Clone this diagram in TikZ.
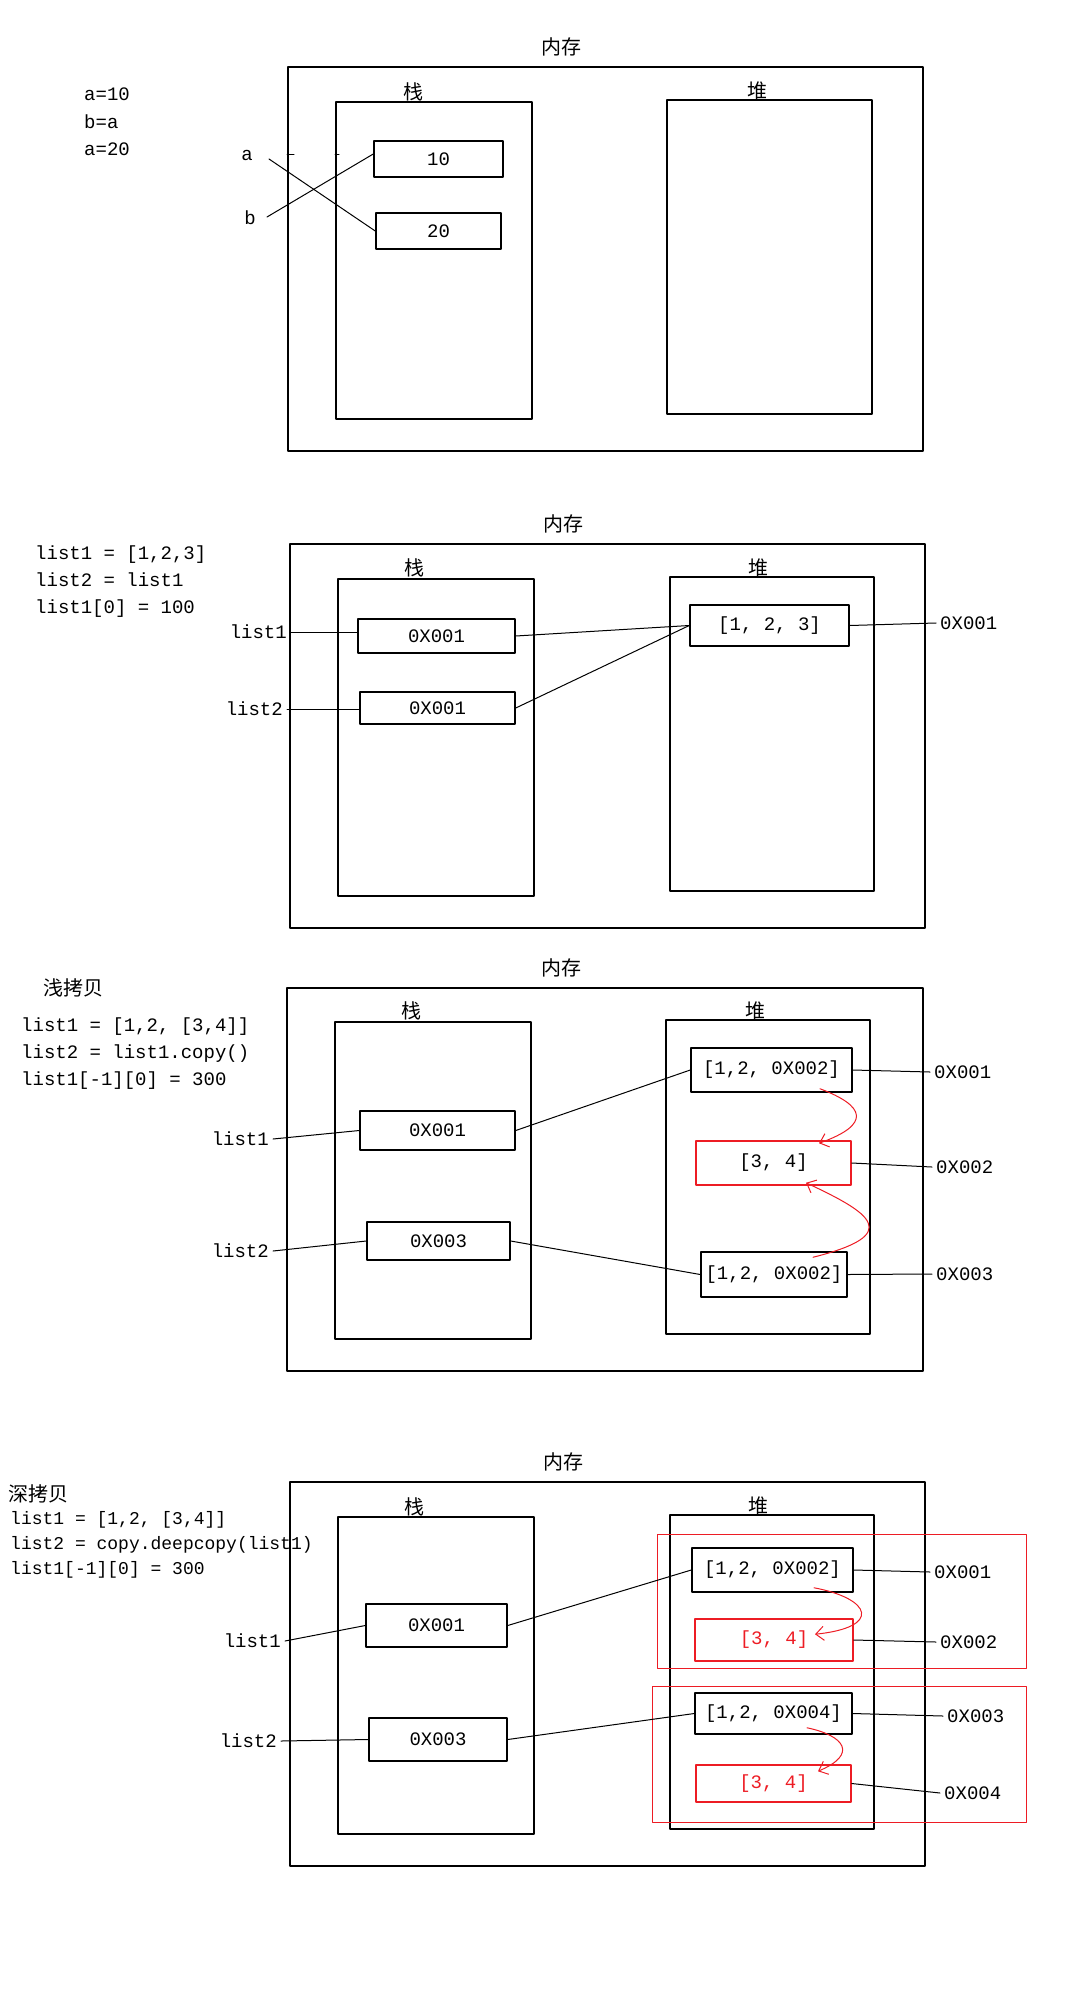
\documentclass[tikz,border=0pt]{standalone}
\usepackage{fontspec}
\setmainfont{Liberation Mono}
\newfontfamily\cjk{Noto Sans CJK SC}
\usetikzlibrary{arrows.meta, calc}

\definecolor{paintred}{RGB}{237,28,36}

\tikzset{
    membox/.style={draw, line width=1.5pt, inner sep=0pt},
    cell/.style={draw, line width=1.5pt, inner sep=0pt, font=\fontsize{19}{19}\selectfont},
    redcell/.style={cell, draw=paintred},
    heading/.style={font=\cjk\fontsize{20}{20}\selectfont, inner sep=0pt},
    codetext/.style={font=\fontsize{19}{27}\selectfont, align=left, inner sep=0pt, anchor=west},
    tag/.style={font=\fontsize{19}{19}\selectfont, inner sep=4pt},
    wire/.style={line width=1pt},
    curl/.style={paintred, line width=1pt, -{Straight Barb[length=8pt, width=14pt]}},
}

\begin{document}
\begin{tikzpicture}[x=1pt, y=-1pt, line join=round, line cap=round]
    \useasboundingbox (0,0) rectangle (1084,2010);

    % --- PANEL 1: a=10, b=a, a=20 ---
    \node[heading] (mem1t) at (561,47) {内存};
    \node[membox, minimum width=635pt, minimum height=384pt] (mem1) at (605.5,259) {};
    \node[membox, minimum width=196pt, minimum height=317pt] (stack1) at (434,260.5) {};
    \node[membox, minimum width=205pt, minimum height=314pt] (heap1) at (769.5,257) {};
    \node[heading] (stack1t) at (413,92) {栈};
    \node[heading] (heap1t) at (757,91) {堆};
    \node[codetext, font=\fontsize{19}{27.5}\selectfont] (code1) at (84,122) {a=10\\b=a\\a=20};

    \node[cell, minimum width=129pt, minimum height=36pt] (ten) at (438.5,159) {10};
    \node[cell, minimum width=125pt, minimum height=36pt] (twenty) at (438.5,231) {20};

    \node[tag] (va) at (247,155) {a};
    \node[tag] (vb) at (250,218) {b};
    \coordinate (aend) at (269,159);
    \coordinate (bend) at (267,217);
    \draw[wire] (aend) -- (twenty.west);
    \draw[wire] (bend) -- ([yshift=5pt]ten.west);
    % small marks on the left edges
    \draw[wire] (287,154) -- (294,154);
    \draw[wire] (335,154) -- (339,154);

    % --- PANEL 2: list2 = list1 ---
    \node[heading] (mem2t) at (563,524) {内存};
    \node[membox, minimum width=635pt, minimum height=384pt] (mem2) at (607.5,736) {};
    \node[membox, minimum width=196pt, minimum height=317pt] (stack2) at (436,737.5) {};
    \node[membox, minimum width=204pt, minimum height=314pt] (heap2) at (772,734) {};
    \node[heading] (stack2t) at (414,568) {栈};
    \node[heading] (heap2t) at (758,568) {堆};
    \node[codetext] (code2) at (35,582) {list1 = [1,2,3]\\list2 = list1\\list1[0] = 100};

    \node[cell, minimum width=157pt, minimum height=34pt] (p1) at (436.5,636) {0X001};
    \node[cell, minimum width=155pt, minimum height=32pt] (p2) at (437.5,708) {0X001};
    \node[cell, minimum width=159pt, minimum height=41pt] (arr) at (769.5,625.5) {[1, 2, 3]};

    \node[tag, anchor=east] (l21) at (291,632) {list1};
    \node[tag, anchor=east] (l22) at (287,709) {list2};
    \node[tag, anchor=west] (o21) at (936,623) {0X001};
    \draw[wire] (l21.east) -- (l21.east -| p1.west);
    \draw[wire] (l22.east) -- (l22.east -| p2.west);
    \draw[wire] (p1.east) -- (arr.west);
    \draw[wire] (p2.east) -- (arr.west);
    \draw[wire] (arr.east) -- (o21.west);

    % --- PANEL 3: shallow copy ---
    \node[heading] (mem3t) at (561,968) {内存};
    \node[membox, minimum width=636pt, minimum height=383pt] (mem3) at (605,1179.5) {};
    \node[membox, minimum width=196pt, minimum height=317pt] (stack3) at (433,1180.5) {};
    \node[membox, minimum width=204pt, minimum height=314pt] (heap3) at (768,1177) {};
    \node[heading] (stack3t) at (411,1011) {栈};
    \node[heading] (heap3t) at (755,1011) {堆};
    \node[heading, anchor=west] (shallow) at (43,988) {浅拷贝};
    \node[codetext] (code3) at (21,1054) {list1 = [1,2, [3,4]]\\list2 = list1.copy()\\list1[-1][0] = 300};

    \node[cell, minimum width=155pt, minimum height=39pt] (q1) at (437.5,1130.5) {0X001};
    \node[cell, minimum width=143pt, minimum height=38pt] (q3) at (438.5,1241) {0X003};
    \node[cell, minimum width=161pt, minimum height=44pt] (ha) at (771.5,1070) {[1,2, 0X002]};
    \node[redcell, minimum width=155pt, minimum height=44pt] (hn) at (773.5,1163) {[3, 4]};
    \node[cell, minimum width=146pt, minimum height=45pt] (hc) at (774,1274.5) {[1,2, 0X002]};

    \node[tag, anchor=east] (l31) at (273,1139) {list1};
    \node[tag, anchor=east] (l32) at (273,1251) {list2};
    \node[tag, anchor=west] (o31) at (930,1072) {0X001};
    \node[tag, anchor=west] (o32) at (932,1167) {0X002};
    \node[tag, anchor=west] (o33) at (932,1274) {0X003};
    \draw[wire] (l31.east) -- (q1.west);
    \draw[wire] (l32.east) -- (q3.west);
    \draw[wire] (q1.east) -- (ha.west);
    \draw[wire] (q3.east) -- (hc.west);
    \draw[wire] (ha.east) -- (o31.west);
    \draw[wire] (hn.east) -- (o32.west);
    \draw[wire] (hc.east) -- (o33.west);

    % both lists point to the same inner list
    \draw[curl] ($(ha.south)+(48.5,-4)$) .. controls +(45,17) and +(53,-19) .. ($(hn.north)+(45.5,3)$);
    \draw[curl] ($(hc.north)+(39,6)$) .. controls +(92,-23) and +(64,30) .. ($(hn.south)+(32.5,-3)$);

    % --- PANEL 4: deep copy ---
    \node[heading] (mem4t) at (563,1462) {内存};
    \node[membox, minimum width=635pt, minimum height=384pt] (mem4) at (607.5,1674) {};
    \node[membox, minimum width=196pt, minimum height=317pt] (stack4) at (436,1675.5) {};
    \node[membox, minimum width=204pt, minimum height=314pt] (heap4) at (772,1672) {};
    \node[heading] (stack4t) at (414,1507) {栈};
    \node[heading] (heap4t) at (758,1506) {堆};
    \node[heading, anchor=west] (deep) at (8,1494) {深拷贝};
    \node[codetext, font=\fontsize{18}{25}\selectfont] (code4) at (10,1545) {list1 = [1,2, [3,4]]\\list2 = copy.deepcopy(list1)\\list1[-1][0] = 300};

    % red groups round each copy
    \node[membox, draw=paintred, line width=1pt, minimum width=369pt, minimum height=134pt] (grp1) at (841.5,1601) {};
    \node[membox, draw=paintred, line width=1pt, minimum width=374pt, minimum height=136pt] (grp2) at (839,1754) {};

    \node[cell, minimum width=141pt, minimum height=43pt] (r1) at (436.5,1625.5) {0X001};
    \node[cell, minimum width=138pt, minimum height=43pt] (r3) at (438,1739.5) {0X003};
    \node[cell, minimum width=161pt, minimum height=44pt] (da) at (772.5,1570) {[1,2, 0X002]};
    \node[redcell, text=paintred, minimum width=158pt, minimum height=42pt] (dn) at (774,1640) {[3, 4]};
    \node[cell, minimum width=157pt, minimum height=41pt] (db) at (773.5,1713.5) {[1,2, 0X004]};
    \node[redcell, text=paintred, minimum width=155pt, minimum height=37pt] (dm) at (773.5,1783.5) {[3, 4]};

    \node[tag, anchor=east] (l41) at (285,1641) {list1};
    \node[tag, anchor=east] (l42) at (281,1741) {list2};
    \node[tag, anchor=west] (o41) at (930,1572) {0X001};
    \node[tag, anchor=west] (o42) at (936,1642) {0X002};
    \node[tag, anchor=west] (o43) at (943,1716) {0X003};
    \node[tag, anchor=west] (o44) at (940,1793) {0X004};
    \draw[wire] (l41.east) -- (r1.west);
    \draw[wire] (l42.east) -- (r3.west);
    \draw[wire] (r1.east) -- (da.west);
    \draw[wire] (r3.east) -- (db.west);
    \draw[wire] (da.east) -- (o41.west);
    \draw[wire] (dn.east) -- (o42.west);
    \draw[wire] (db.east) -- (o43.west);
    \draw[wire] (dm.east) -- (o44.west);

    % each list points to its own inner list
    \draw[curl] ($(da.south)+(41.5,-5)$) .. controls +(58,11) and +(67,-7) .. ($(dn.north)+(41,16)$);
    \draw[curl] ($(db.south)+(33.5,-7)$) .. controls +(38,8) and +(40,-17) .. ($(dm.north)+(44.5,7)$);

\end{tikzpicture}
\end{document}
